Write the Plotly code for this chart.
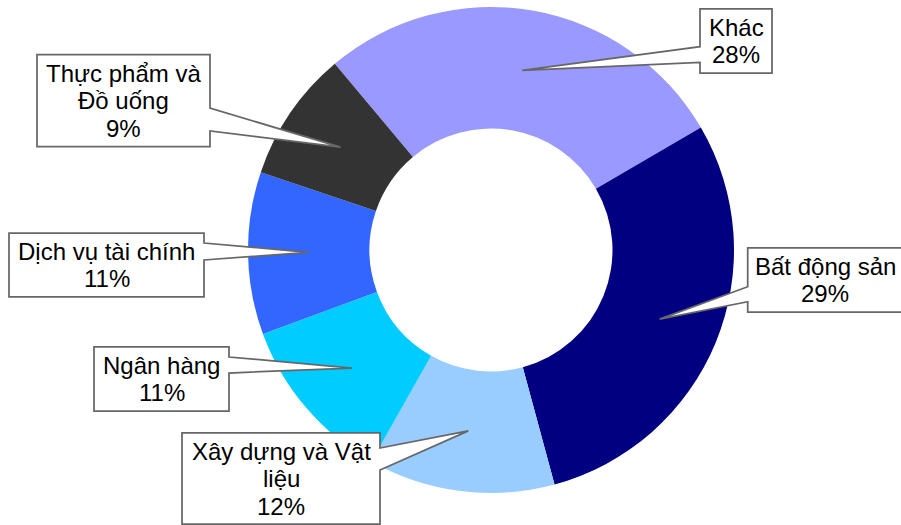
import math
import plotly.graph_objects as go

# ---- data ----
categories = ["Khác", "Bất động sản", "Xây dựng và Vật liệu", "Ngân hàng",
              "Dịch vụ tài chính", "Thực phẩm và Đồ uống"]
values = [27.7, 29.2, 12.4, 11.2, 10.8, 8.7]
label_lines = [["Khác"], ["Bất động sản"], ["Xây dựng và Vật", "liệu"],
               ["Ngân hàng"], ["Dịch vụ tài chính"], ["Thực phẩm và", "Đồ uống"]]
colors = ["#9999FF", "#000080", "#99CCFF", "#00CCFF", "#3366FF", "#333333"]

# ---- layout constants (pixels) ----
W, H = 901, 525
CX, CY, R = 491, 250, 243
HOLE = 0.5
ROTATION = -40
TIP_FRAC = 0.75
FONT = "Liberation Sans, Arial, sans-serif"
FS = 24
LINE_H = 27.5
# callout boxes: left, top, right, bottom, wedge side, wedge y1, wedge y2
boxes = [
    (700, 9, 772, 73, "left", 46.7, 62.3),
    (747.7, 248, 903, 312, "left", 286.7, 301.7),
    (182, 433, 380, 524, "right", 448, 470),
    (94, 347, 229, 411, "right", 357, 373),
    (9, 233, 204, 297, "right", 243, 260),
    (37, 54.7, 210, 146.7, "right", 108, 131),
]


def px(x):
    return x / W


def py(y):
    return 1 - y / H


fig = go.Figure()
fig.add_trace(go.Pie(
    labels=categories, values=values, sort=False, direction="clockwise",
    rotation=ROTATION, hole=HOLE, textinfo="none",
    marker=dict(colors=colors, line=dict(width=0)),
    domain=dict(x=[px(CX - R), px(CX + R)], y=[py(CY + R), py(CY - R)]),
    showlegend=False,
))

total = sum(values)
shapes = []
annotations = []
cum = 0.0
for i, v in enumerate(values):
    mid = ROTATION + (cum + v / 2) / total * 360
    cum += v
    a = math.radians(mid)
    tx = CX + TIP_FRAC * R * math.sin(a)
    ty = CY - TIP_FRAC * R * math.cos(a)
    L, T, Rt, B, side, w1, w2 = boxes[i]
    if side == "left":
        pts = [(L, T), (Rt, T), (Rt, B), (L, B), (L, w2), (tx, ty), (L, w1)]
    else:
        pts = [(L, T), (Rt, T), (Rt, w1), (tx, ty), (Rt, w2), (Rt, B), (L, B)]
    path = "M " + " L ".join(f"{px(x):.5f},{py(y):.5f}" for x, y in pts) + " Z"
    shapes.append(dict(type="path", path=path, xref="paper", yref="paper",
                       fillcolor="white", line=dict(color="#676767", width=1.75),
                       layer="above"))
    lines = label_lines[i] + [f"{round(v / total * 100)}%"]
    n = len(lines)
    bcx = (L + Rt) / 2
    bcy = (T + B) / 2
    for j, t in enumerate(lines):
        ly = bcy + (j - (n - 1) / 2) * LINE_H
        annotations.append(dict(x=px(bcx), y=py(ly), xref="paper", yref="paper",
                                text=t, showarrow=False, xanchor="center",
                                yanchor="middle",
                                font=dict(family=FONT, size=FS, color="black")))

fig.update_layout(width=W, height=H, margin=dict(l=0, r=0, t=0, b=0),
                  paper_bgcolor="white", plot_bgcolor="white",
                  shapes=shapes, annotations=annotations)
fig.write_html("out.html")
